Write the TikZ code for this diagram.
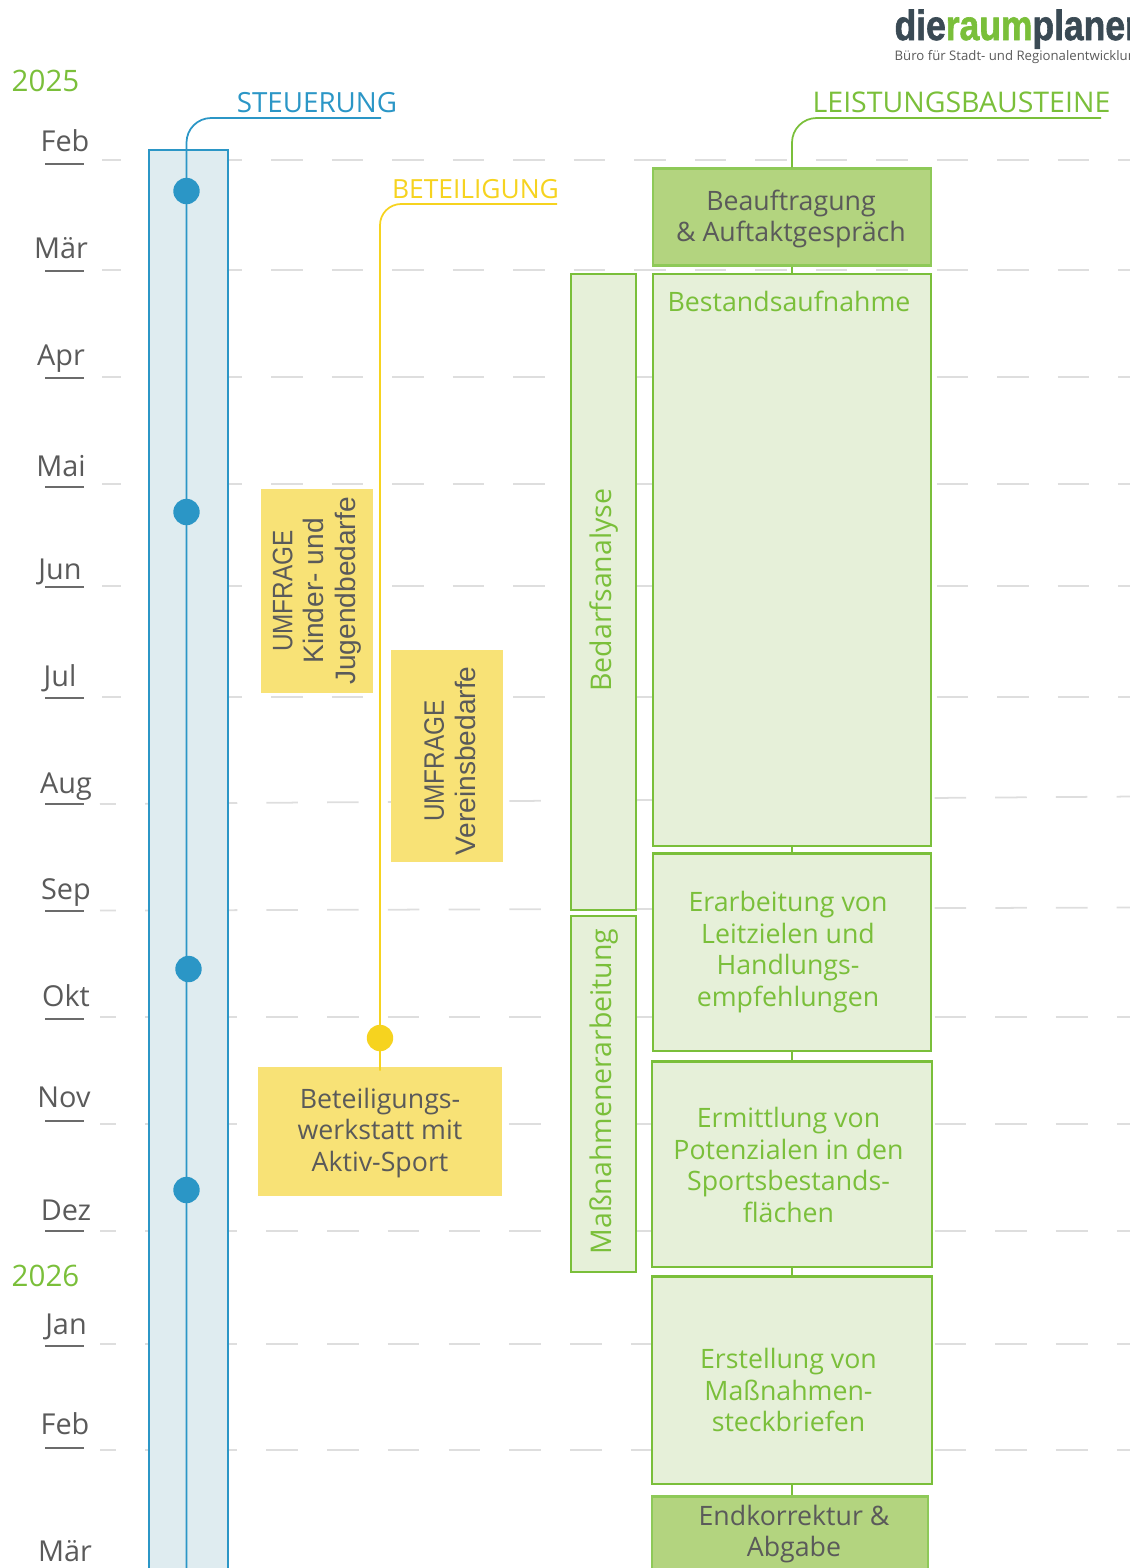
\documentclass[tikz,border=0pt]{standalone}
\usepackage{fontspec}
\setmainfont{Open Sans}
\newfontfamily\umfont{Liberation Sans}
\newfontfamily\logofont[FakeBold=1.6]{Liberation Sans Bold}
\usepackage{tikz}
\usetikzlibrary{positioning}
\definecolor{stblue}{HTML}{2B96C6}
\definecolor{stfill}{HTML}{DFECF0}
\definecolor{begelb}{HTML}{F6D31F}
\definecolor{yelbox}{HTML}{F8E276}
\definecolor{lsgreen}{HTML}{7ABF3A}
\definecolor{lsfill}{HTML}{E6F0D9}
\definecolor{lsdark}{HTML}{B3D47F}
\definecolor{txgrey}{HTML}{5A5A5A}
\definecolor{logodark}{HTML}{3A4A54}
\definecolor{gridgrey}{HTML}{DEDEDE}
\tikzset{
  gridtop/.style={gridgrey,line width=0.5pt,dash pattern=on 8.96pt off 8.25pt,dash phase=3.56pt},
  gridlow/.style={gridgrey,line width=0.5pt,dash pattern=on 8.96pt off 8.31pt,dash phase=4.47pt},
  monthlab/.style={text=txgrey,font=\fontsize{8.2}{9}\selectfont,anchor=base},
  yearlab/.style={text=lsgreen,font=\fontsize{8.4}{9}\selectfont,anchor=base},
  headlab/.style={font=\fontsize{7.9}{9}\selectfont,anchor=base},
  lsbox/.style={draw=lsgreen,fill=lsfill,line width=0.6pt,inner sep=0pt},
  lsdarkbox/.style={lsbox,draw=lsgreen!85!white,fill=lsdark},
  lstext/.style={text=lsgreen,align=center,inner sep=0pt,font=\fontsize{7.6}{9}\selectfont},
  darktext/.style={lstext,text=txgrey},
  phasebox/.style={lsbox,line width=0.45pt,rotate=90,minimum height=65*0.2845pt,text=lsgreen,
    font=\fontsize{8.1}{9}\selectfont},
  yelnode/.style={fill=yelbox,text=txgrey,align=center,inner sep=0pt,font=\fontsize{7.6}{8.95}\selectfont},
  umfnode/.style={yelnode,rotate=90,font=\umfont\fontsize{8}{9}\selectfont},
  stdot/.style={circle,fill=stblue,minimum size=7.5pt,inner sep=0pt},
  lslink/.style={lsgreen,line width=0.6pt},
}
% box at its centre, with its text placed on its own
\newcommand{\pxbox}[7]{%
  \node[#1,minimum width=#4*0.2845pt,minimum height=#5*0.2845pt] (#2) at (#3) {};
  \node[lstext,#6] (#2Tx) {#7};}
\newcommand{\umf}{\scalebox{0.865}[1]{UMFRAGE}}
\begin{document}
\begin{tikzpicture}[x=0.01cm,y=-0.01cm]
  \useasboundingbox (0,0) rectangle (1129,1568);

  % month grid
  \foreach \yy in {160,270,377,484,586,697}
    \draw[gridtop] (102,\yy) -- (1135,\yy);
  \foreach \ya/\yb in {804/796.5,910.5/907.5,1017/1017,1124/1124,1231/1231,1344/1344,1450/1450}
    \draw[gridlow] (100,\ya) -- (1135,\yb);

  % month names and ticks
  \foreach \name/\xx/\base/\tick in {Feb/65/151/164,Mär/61/258/271,Apr/61/365/378,Mai/61/476/487,
    Jun/60/579/587,Jul/60/686/698,Aug/66/793/804,Sep/66/899/911,Okt/66/1006/1019,Nov/64/1107/1121,
    Dez/66/1220/1231,Jan/66/1334/1346,Feb/65/1434/1448}{
    \node[monthlab] (m\tick) at (\xx,\base) {\name};
    \draw[txgrey!90,line width=0.55pt] (45,\tick) -- (84,\tick);
  }
  \node[monthlab] (mEnd) at (65,1561) {Mär};
  \node[yearlab] (y25) at (45.5,91) {2025};
  \node[yearlab] (y26) at (45.5,1286) {2026};

  % logo
  \node[anchor=base west,inner sep=0pt,text=logodark,xscale=0.84,
    font=\logofont\fontsize{12}{12}\selectfont] (logo) at (894,40)
    {die\textcolor{lsgreen}{raum}planer};
  \node[anchor=base west,inner sep=0pt,text=txgrey,font=\fontsize{3.75}{4}\selectfont] (claim) at (894,60)
    {Büro für Stadt- und Regionalentwicklung};

  % Steuerung
  \draw[draw=stblue,fill=stfill,line width=0.6pt] (149,150) rectangle (228,1580);
  \node[headlab,text=stblue] (steuer) at (317,112) {STEUERUNG};
  \coordinate (stEnd) at (381,118);
  \coordinate (stFoot) at (186.5,1570);
  \draw[stblue,line width=0.5pt,rounded corners=7pt] (stEnd) -- (186.5,118) -- (stFoot);
  \foreach \yy/\xx/\id in {191/186.5/a,512/186.5/b,969/188.5/c,1190/186.5/d}
    \node[stdot] (dot\id) at (\xx,\yy) {};

  % Beteiligung
  \node[headlab,text=begelb,font=\fontsize{7.5}{9}\selectfont] (beteil) at (475.5,198) {BETEILIGUNG};
  \coordinate (beEnd) at (557,204);
  \node[yelnode,minimum width=244*0.2845pt,minimum height=129*0.2845pt] (werkstatt) at (380,1131.5) {};
  \node[yelnode,fill=none] (werkstattTx) at (380,1133) {Beteiligungs-\\werkstatt mit\\Aktiv-Sport};
  \draw[begelb,line width=0.5pt,rounded corners=6pt] (beEnd) -- (380,204) -- ([yshift=-1.2pt]werkstatt.north);
  \node[circle,fill=begelb,minimum size=7.5pt,inner sep=0pt] (bedot) at (380,1038) {};
  \node[umfnode,minimum width=204*0.2845pt,minimum height=112*0.2845pt] (umf1) at (317,591)
    {\umf\\Kinder- und\\Jugendbedarfe};
  \node[umfnode,minimum width=212*0.2845pt,minimum height=112*0.2845pt] (umf2) at (447,756) {};
  \node[umfnode,fill=none] (umf2Tx) at (450,761) {\umf\\Vereinsbedarfe};

  % Leistungsbausteine
  \node[headlab,text=lsgreen,font=\fontsize{8.1}{9}\selectfont] (leist) at (961.5,112) {LEISTUNGSBAUSTEINE};
  \coordinate (lsEnd) at (1101,118);
  \pxbox{lsdarkbox}{auftakt}{792,217}{278}{97}{darktext,at={(791,219)}}{Beauftragung\\\& Auftaktgespräch}
  \draw[lslink,line width=0.5pt,rounded corners=7pt] (lsEnd) -- (792,118) -- (auftakt.north);
  \pxbox{lsbox}{bestand}{792,560}{278}{572}{at={(789,301)}}{Bestandsaufnahme}
  \pxbox{lsbox}{leitziel}{792,952}{278}{197}{at={(788,952)}}{Erarbeitung von\\Leitzielen und\\Handlungs-\\empfehlungen}
  \pxbox{lsbox}{potenz}{792,1164}{279}{205}{at={(788.5,1165)}}{Ermittlung von\\Potenzialen in den\\Sportsbestands-\\flächen}
  \pxbox{lsbox}{steckbr}{792,1380}{279}{207}{at={(788.5,1390)}}{Erstellung von\\Maßnahmen-\\steckbriefen}
  \pxbox{lsdarkbox}{abgabe}{790,1540}{275}{87}{darktext,at={(794,1534)}}{Endkorrektur \&\\Abgabe}
  \draw[lslink] (auftakt) -- (bestand);
  \draw[lslink] (bestand) -- (leitziel);
  \draw[lslink] (leitziel) -- (potenz);
  \draw[lslink] (potenz) -- (steckbr);
  \draw[lslink] (steckbr.south) -- (steckbr.south |- abgabe.north);

  % phases
  \node[phasebox,minimum width=636*0.2845pt] (bedarf) at (603.5,592) {};
  \node[lstext,rotate=90,font=\fontsize{8.1}{9}\selectfont] (bedarfTx) at (604,590) {Bedarfsanalyse};
  \node[phasebox,minimum width=356*0.2845pt] (massn) at (603.5,1094) {};
  \node[lstext,rotate=90,font=\fontsize{8.1}{9}\selectfont] (massnTx) at (604,1091.5) {Maßnahmenerarbeitung};
\end{tikzpicture}
\end{document}
